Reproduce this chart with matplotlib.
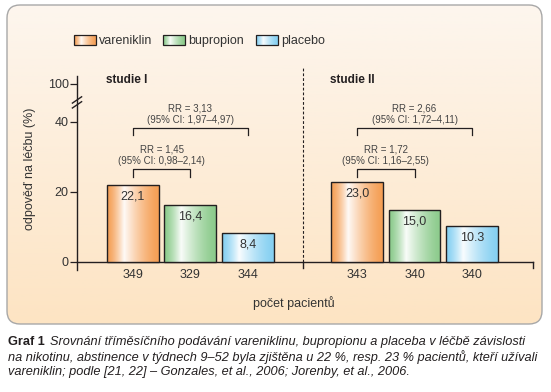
import numpy as np
import matplotlib
matplotlib.use("Agg")
import matplotlib.pyplot as plt
from matplotlib.patches import FancyBboxPatch, Rectangle
from matplotlib.colors import to_rgb

plt.rcParams["font.family"] = ["Liberation Sans", "DejaVu Sans"]

# data
drugs = ["vareniklin", "bupropion", "placebo"]
studies = ["studie I", "studie II"]
resp_1 = [22.1, 16.4, 8.4]
resp_2 = [23.0, 15.0, 10.3]
value_labels_1 = ["22,1", "16,4", "8,4"]
value_labels_2 = ["23,0", "15,0", "10.3"]
n_1 = [349, 329, 344]
n_2 = [343, 340, 340]
rr_inner = ["RR = 1,45\n(95% CI: 0,98–2,14)", "RR = 1,72\n(95% CI: 1,16–2,55)"]
rr_outer = ["RR = 3,13\n(95% CI: 1,97–4,97)", "RR = 2,66\n(95% CI: 1,72–4,11)"]
ytick_vals = [0, 20, 40, 50.9]
ytick_labels = ["0", "20", "40", "100"]

colors = ["#f59f55", "#8ccb8c", "#86d0f2"]
ink = "#231f20"
soft = "#333333"

W, H = 551, 392
fig = plt.figure(figsize=(W / 100, H / 100), dpi=100)
fig.patch.set_facecolor("white")

# background panel (pixel coords)
bg = fig.add_axes([0, 0, 1, 1])
bg.set_xlim(0, W)
bg.set_ylim(H, 0)
bg.axis("off")
panel = FancyBboxPatch((7, 5), 535, 319, boxstyle="round,pad=0,rounding_size=13",
                       facecolor="none", edgecolor="#a8a8a8", lw=1.0, zorder=2)
bg.add_patch(panel)
top_c = np.array(to_rgb("#fdf6ee"))
bot_c = np.array(to_rgb("#fde4c3"))
t = np.linspace(0, 1, 200)[:, None, None]
grad = top_c * (1 - t) + bot_c * t
im = bg.imshow(grad, extent=(7, 542, 324, 5), aspect="auto", zorder=1)
im.set_clip_path(panel)


def bar_gradient(c):
    c = np.array(to_rgb(c))
    x = np.linspace(0, 1, 120)
    w = np.clip(1 - np.abs(x - 0.33) / np.where(x < 0.33, 0.33, 0.67), 0, 1) ** 1.4 * 0.95
    return (c * (1 - w[:, None]) + w[:, None])[None, :, :]


# legend
lx = [74, 163, 256]
for i, d in enumerate(drugs):
    r = Rectangle((lx[i], 35), 22, 10, facecolor="none", edgecolor=ink, lw=0.9, zorder=4)
    bg.add_patch(r)
    g = bg.imshow(bar_gradient(colors[i]), extent=(lx[i], lx[i] + 22, 45, 35),
                  aspect="auto", zorder=3)
    g.set_clip_path(r)
    bg.text(lx[i] + 25, 40.5, d, fontsize=9, color=soft, va="center", ha="left")

# caption
cap_y = [342, 357, 372]
t1 = bg.text(8, cap_y[0], "Graf 1", fontsize=9.2, fontweight="bold", color=ink, va="center")
fig.canvas.draw()
bb = t1.get_window_extent()
bg.text(bb.x1 + 5, cap_y[0],
        "Srovnání tříměsíčního podávání vareniklinu, bupropionu a placeba v léčbě závislosti",
        fontsize=9.2, style="italic", color=ink, va="center")
bg.text(8, cap_y[1],
        "na nikotinu, abstinence v týdnech 9–52 byla zjištěna u 22 %, resp. 23 % pacientů, kteří užívali",
        fontsize=9.2, style="italic", color=ink, va="center")
bg.text(8, cap_y[2],
        "vareniklin; podle [21, 22] – Gonzales, et al., 2006; Jorenby, et al., 2006.",
        fontsize=9.2, style="italic", color=ink, va="center")

# main axes: 3.5 px per unit in y, 57.5 px per bar pitch in x
px_l, px_r, px_t, px_b = 77, 533, 67, 272
ax = fig.add_axes([px_l / W, 1 - px_b / H, (px_r - px_l) / W, (px_b - px_t) / H])
ax.patch.set_alpha(0)
xmin, xmax = -0.97, 6.96
ymin, ymax = -(px_b - 262) / 3.5, (262 - px_t) / 3.5
for s in ax.spines.values():
    s.set_visible(False)

pos_1 = np.arange(3)
pos_2 = np.arange(3) + 3.9
for pos, vals, labs, ns in [(pos_1, resp_1, value_labels_1, n_1),
                            (pos_2, resp_2, value_labels_2, n_2)]:
    bars = ax.bar(pos, vals, width=0.9, facecolor="none", edgecolor=ink, lw=1.0, zorder=4)
    for i, b in enumerate(bars):
        g = ax.imshow(bar_gradient(colors[i]),
                      extent=(b.get_x(), b.get_x() + b.get_width(), 0, b.get_height()),
                      aspect="auto", zorder=3)
        g.set_clip_path(b)
        ax.text(pos[i], vals[i] - 3.4, labs[i], ha="center", va="center",
                fontsize=9, color=soft, zorder=5)
        ax.text(pos[i], -3.8, str(ns[i]), ha="center", va="center",
                fontsize=9, color=soft, clip_on=False)

# brackets
def bracket(x0, x1, ytop, ybot, label, ty):
    ax.plot([x0, x0, x1, x1], [ybot, ytop, ytop, ybot], color=ink, lw=0.9, zorder=5)
    ax.text((x0 + x1) / 2, ty, label, ha="center", va="center", fontsize=7,
            color="#444444", linespacing=1.15)

for k, pos in enumerate([pos_1, pos_2]):
    bracket(pos[0], pos[1], 26.6, 24.3, rr_inner[k], 30.5)
    bracket(pos[0], pos[2], 38.3, 36.3, rr_outer[k], 42.3)
    ax.text(pos[0] - 0.47, 52.1, studies[k], fontsize=8.5, fontweight="bold",
            color=ink, ha="left", va="center")

# axis lines
ax.plot([xmin, xmin], [ymin + 0.55, 53.1], color=ink, lw=1.0, clip_on=False)
ax.plot([xmin, xmax], [0, 0], color=ink, lw=1.0, clip_on=False)
ax.plot([xmax, xmax], [0, -1.7], color=ink, lw=1.0, clip_on=False)
ax.plot([2.96, 2.96], [0, -1.7], color=ink, lw=1.0, clip_on=False)
ax.plot([2.96, 2.96], [0, ymax], color=ink, lw=0.8, ls=(0, (2.5, 1.8)), clip_on=False)
# axis break marks
for yb in [44.9, 46.3]:
    ax.plot([xmin - 0.08, xmin + 0.08], [yb - 0.9, yb + 0.9], color=ink, lw=1.0, clip_on=False)

ax.set_yticks(ytick_vals)
ax.set_yticklabels(ytick_labels)
ax.set_xticks([])
ax.tick_params(axis="y", direction="out", length=5, width=0.9, color=ink,
               labelsize=9, labelcolor=soft, pad=1)
ax.set_ylabel("odpověď na léčbu (%)", fontsize=9, color=soft)
ax.yaxis.set_label_coords(-0.09, (0 - ymin + 26.6) / (ymax - ymin))
ax.text((xmin + xmax) / 2 - 0.2, -11.7, "počet pacientů", ha="center", va="center",
        fontsize=9, color=soft, clip_on=False)
ax.set_xlim(xmin, xmax)
ax.set_ylim(ymin, ymax)

fig.savefig("out.png", dpi=100)
